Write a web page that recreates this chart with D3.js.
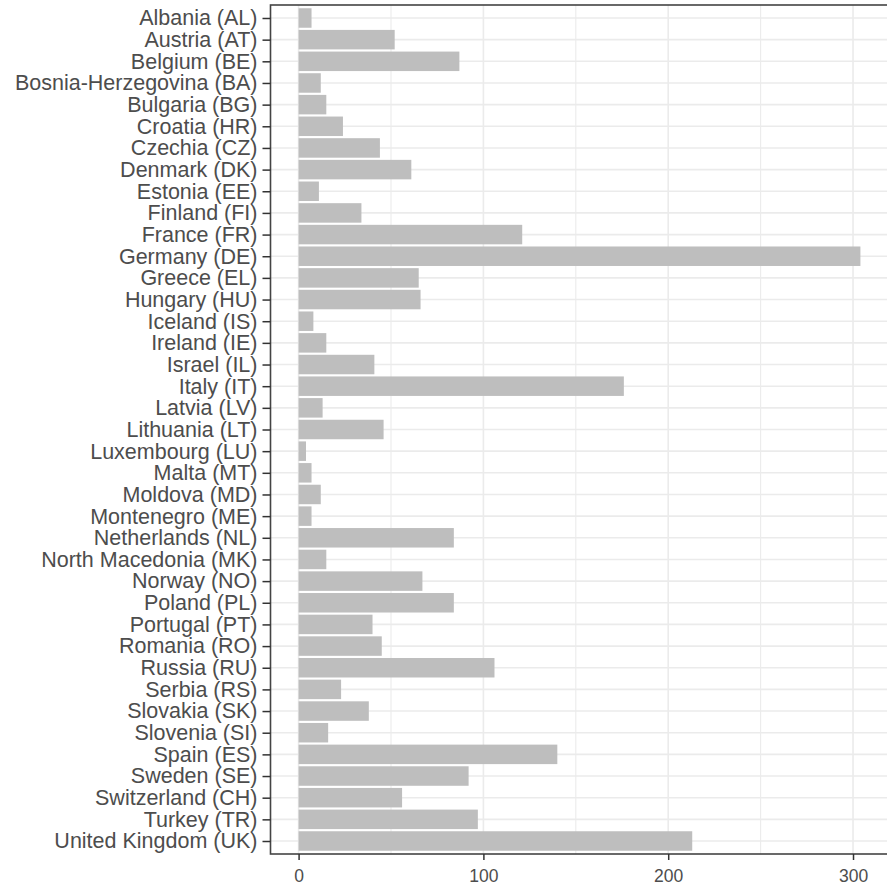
<!DOCTYPE html>
<html>
<head>
<meta charset="utf-8">
<script src="https://cdn.jsdelivr.net/npm/d3@7"></script>
<style>
html,body{margin:0;padding:0;background:#fff;}
svg{display:block;}
</style>
</head>
<body>
<svg id="chart" width="887" height="887"></svg>
<script>
const countries = [
  "Albania (AL)","Austria (AT)","Belgium (BE)","Bosnia-Herzegovina (BA)","Bulgaria (BG)",
  "Croatia (HR)","Czechia (CZ)","Denmark (DK)","Estonia (EE)","Finland (FI)",
  "France (FR)","Germany (DE)","Greece (EL)","Hungary (HU)","Iceland (IS)",
  "Ireland (IE)","Israel (IL)","Italy (IT)","Latvia (LV)","Lithuania (LT)",
  "Luxembourg (LU)","Malta (MT)","Moldova (MD)","Montenegro (ME)","Netherlands (NL)",
  "North Macedonia (MK)","Norway (NO)","Poland (PL)","Portugal (PT)","Romania (RO)",
  "Russia (RU)","Serbia (RS)","Slovakia (SK)","Slovenia (SI)","Spain (ES)",
  "Sweden (SE)","Switzerland (CH)","Turkey (TR)","United Kingdom (UK)"
];
const values = [
  7, 52, 87, 12, 15,
  24, 44, 61, 11, 34,
  121, 304, 65, 66, 8,
  15, 41, 176, 13, 46,
  4, 7, 12, 7, 84,
  15, 67, 84, 40, 45,
  106, 23, 38, 16, 140,
  92, 56, 97, 213
];
const xTicks = [0, 100, 200, 300];
const xMinorTicks = [50, 150, 250];

const data = countries.map((c, i) => ({country: c, value: values[i]}));

const svg = d3.select("#chart");
const panel = {left: 270.5, top: 5, bottom: 854, right: 888.5};

const maxV = d3.max(values);
const pad = maxV * 0.05;
const x = d3.scaleLinear().domain([-pad, maxV + pad]).range([panel.left, panel.right]);
const y = d3.scalePoint().domain(countries).range([panel.top, panel.bottom]).padding(0.6);
const step = y.step();
const barH = step * 0.9;

svg.append("rect").attr("x", panel.left).attr("y", panel.top)
  .attr("width", panel.right - panel.left).attr("height", panel.bottom - panel.top)
  .attr("fill", "#fff");

const grid = svg.append("g");
grid.selectAll("line.minor").data(xMinorTicks).enter().append("line")
  .attr("x1", d => x(d)).attr("x2", d => x(d))
  .attr("y1", panel.top).attr("y2", panel.bottom)
  .attr("stroke", "#ebebeb").attr("stroke-width", 1.1);
grid.selectAll("line.majx").data(xTicks).enter().append("line")
  .attr("x1", d => x(d)).attr("x2", d => x(d))
  .attr("y1", panel.top).attr("y2", panel.bottom)
  .attr("stroke", "#ebebeb").attr("stroke-width", 1.6);
grid.selectAll("line.majy").data(countries).enter().append("line")
  .attr("x1", panel.left).attr("x2", panel.right)
  .attr("y1", d => y(d)).attr("y2", d => y(d))
  .attr("stroke", "#ebebeb").attr("stroke-width", 1.6);

svg.append("g").selectAll("rect").data(data).enter().append("rect")
  .attr("x", x(0))
  .attr("y", d => y(d.country) - barH / 2)
  .attr("width", d => x(d.value) - x(0))
  .attr("height", barH)
  .attr("fill", "#bebebe");

svg.append("rect").attr("x", panel.left).attr("y", panel.top)
  .attr("width", panel.right - panel.left).attr("height", panel.bottom - panel.top)
  .attr("fill", "none").attr("stroke", "#444").attr("stroke-width", 1.6);

const yAxis = d3.axisLeft(y).tickSize(8).tickPadding(5);
const gy = svg.append("g").attr("transform", `translate(${panel.left},0)`).call(yAxis);
gy.select(".domain").remove();
gy.selectAll(".tick line").attr("stroke", "#333").attr("stroke-width", 1.5);
gy.selectAll(".tick text").attr("fill", "#4d4d4d")
  .style("font-family", "'Liberation Sans', Arial, sans-serif").style("font-size", "21.5px");

const xAxis = d3.axisBottom(x).tickValues(xTicks).tickFormat(d3.format("d")).tickSize(6).tickPadding(10);
const gx = svg.append("g").attr("transform", `translate(0,${panel.bottom})`).call(xAxis);
gx.select(".domain").remove();
gx.selectAll(".tick line").attr("stroke", "#333").attr("stroke-width", 1.5);
gx.selectAll(".tick text").attr("fill", "#4d4d4d")
  .style("font-family", "'Liberation Sans', Arial, sans-serif").style("font-size", "17.5px");
</script>
</body>
</html>
